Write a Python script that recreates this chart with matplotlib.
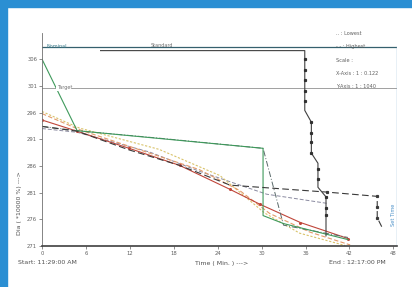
import numpy as np
import matplotlib
matplotlib.use("Agg")
import matplotlib.pyplot as plt
from matplotlib.patches import Rectangle

# ---- données ----
x_ticks = [0, 6, 12, 18, 24, 30, 36, 42, 48]
y_ticks = [271, 276, 281, 286, 291, 296, 301, 306]

nominal = 308.2
target = 300.6
highest_y = 307.6

# série en escalier (points)
stair_x = [8, 35.9, 35.9, 36.8, 36.8, 37.7, 37.7, 38.8, 38.8]
stair_y = [307.6, 307.6, 296.4, 294.2, 288.4, 286.5, 282.0, 280.2, 272.9]
stair_mx = [35.9, 35.9, 35.9, 35.9, 35.9, 36.8, 36.8, 36.8, 36.8, 37.7, 37.7, 38.8, 38.8, 38.8]
stair_my = [306.0, 304.0, 302.1, 300.0, 298.2, 294.2, 292.2, 290.4, 288.4, 285.4, 283.6, 280.2, 278.1, 276.8]

green_x = [0, 4.8, 30.2, 30.2, 33.0, 41.8]
green_y = [306.0, 292.6, 289.3, 276.7, 275.2, 272.2]

red_x = [0, 4.8, 11.9, 18.8, 25.7, 29.8, 35.3, 41.8]
red_y = [294.6, 292.5, 289.3, 286.1, 281.6, 278.8, 275.4, 272.4]

orange_x = [0, 5.1, 14.7, 21.5, 27.0, 31.1, 36.6, 42.1]
orange_y = [295.8, 292.8, 288.4, 285.3, 281.4, 277.1, 273.6, 271.2]

yellow_x = [0, 5.1, 16.0, 24.3, 30.4, 35.2, 41.4]
yellow_y = [296.2, 293.1, 289.1, 284.2, 277.2, 273.4, 271.1]

darkdash_x = [0, 4.8, 11.9, 18.8, 25.7, 38.9, 45.8, 45.8, 46.6]
darkdash_y = [293.4, 292.5, 289.0, 286.1, 282.4, 281.1, 280.3, 276.3, 274.1]
darkdash_mx = [38.9, 45.8, 45.8, 45.8]
darkdash_my = [281.1, 280.3, 278.3, 276.3]

grey_x = [0, 4.8, 14.7, 21.5, 30.7, 38.9]
grey_y = [293.0, 292.3, 288.6, 285.0, 280.7, 279.0]

dashdot_x = [0, 4.8, 16.0, 30.2, 33.0, 41.8]
dashdot_y = [293.4, 292.6, 291.2, 289.3, 274.9, 272.6]

fig = plt.figure(figsize=(4.12, 2.87), dpi=100)
fig.patch.set_facecolor("white")

# cadre bleu (haut et gauche)
fig.patches.append(Rectangle((0, 1 - 7 / 287), 1, 7 / 287, transform=fig.transFigure,
                             color="#2b8fd3", zorder=0))
fig.patches.append(Rectangle((0, 0), 7 / 412, 1, transform=fig.transFigure,
                             color="#2b8fd3", zorder=0))

ax = fig.add_axes([42 / 412, 1 - 246 / 287, (397 - 42) / 412, (246 - 33) / 287])
ax.set_xlim(0, 48.5)
ax.set_ylim(271, 310.9)

# lignes de référence
ax.plot([0, 48.5], [nominal, nominal], color="#35606e", lw=0.9)
ax.plot([0, 48.5], [target, target], color="#909090", lw=0.6)
ax.plot([48.5, 48.5], [271, nominal], color="#8ab4d4", lw=1.0)
ax.text(0.6, nominal + 0.1, "Nominal", fontsize=3.5, color="#3a7a8a", va="center")
ax.text(14.8, nominal + 0.3, "Standard", fontsize=3.5, color="#707070", va="center")
ax.text(2.0, target, "Target", fontsize=3.5, color="#707070", va="center",
        bbox=dict(facecolor="white", edgecolor="none", pad=0.3))

# séries
ax.plot(grey_x, grey_y, color="#8a8aa0", lw=0.7, ls=(0, (4, 2)))
ax.plot(yellow_x, yellow_y, color="#d9c36a", lw=0.8, ls=(0, (2, 1.5)))
ax.plot(orange_x, orange_y, color="#e39a6a", lw=0.8, ls=(0, (4, 2)))
ax.plot(red_x, red_y, color="#c0463a", lw=0.8, marker="o", ms=1.2)
ax.plot(dashdot_x, dashdot_y, color="#5a6a6a", lw=0.7, ls=(0, (6, 2, 1, 2)))
ax.plot(green_x, green_y, color="#3f9a5c", lw=0.8)
ax.plot(darkdash_x, darkdash_y, color="#3a3a3a", lw=0.8, ls=(0, (6, 3)))
ax.plot(darkdash_mx, darkdash_my, ls="none", marker="s", ms=1.3, color="#3a3a3a")
ax.plot(stair_x, stair_y, color="#404040", lw=0.8)
ax.plot(stair_mx, stair_my, ls="none", marker="s", ms=1.3, color="#303030")

# légende texte
lx = 40.2
for yv, s in [(310.9, ".. : Lowest"), (308.3, "- - : Highest"), (305.7, "Scale :"),
              (303.3, "X-Axis : 1 : 0.122"), (300.9, "Y-Axis : 1 : 1040")]:
    ax.text(lx, yv, s, fontsize=3.6, color="#606060", va="center")

ax.text(48.0, 276.8, "Set Time", fontsize=3.6, color="#4a90c8", rotation=90,
        ha="center", va="center")

ax.set_xticks(x_ticks)
ax.set_yticks(y_ticks)
ax.tick_params(labelsize=3.8, length=2, width=0.5, colors="#606060", pad=1.5)
for s in ["top", "right"]:
    ax.spines[s].set_visible(False)
ax.spines["left"].set_color("#707070")
ax.spines["bottom"].set_color("#404040")
ax.spines["bottom"].set_linewidth(1.2)
ax.spines["left"].set_linewidth(0.6)

ax.set_ylabel("Dia ( *10000 %) --->", fontsize=4.5, color="#505050", labelpad=4)
ax.yaxis.set_label_coords(-0.055, 0.2)

fig.text(18 / 412, 1 - 263 / 287, "Start: 11:29:00 AM", fontsize=4.5, color="#505050", va="center")
fig.text(222 / 412, 1 - 263 / 287, "Time ( Min. ) --->", fontsize=4.5, color="#505050",
         va="center", ha="center")
fig.text(329 / 412, 1 - 263 / 287, "End : 12:17:00 PM", fontsize=4.5, color="#505050", va="center")

fig.savefig("out.png", dpi=100)
